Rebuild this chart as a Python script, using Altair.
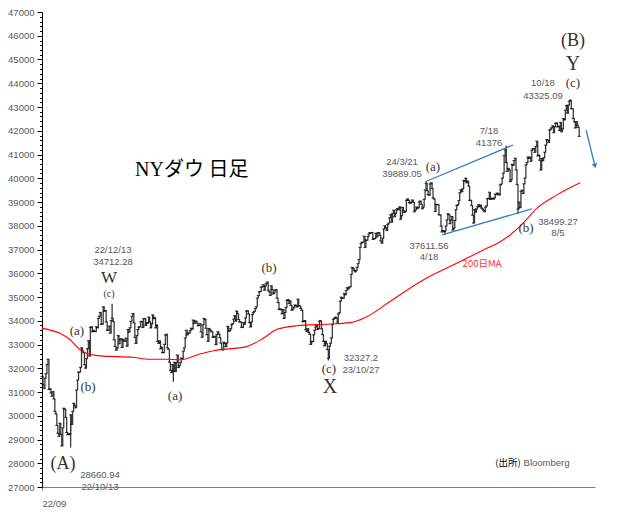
import altair as alt
import pandas as pd

# ---------------- daily closes (NY Dow), 2022/09/01 .. 2024/10/31 ----------------
c2022_09 = [31656, 31318, 31145, 31581, 31774, 32151, 32381, 31104, 31135, 30961, 30822,
            31019, 30706, 30184, 30076, 29590, 29260, 29135, 29684, 29225, 28726]
c2022_10 = [29490, 30316, 30274, 29927, 29297, 29203, 29239, 29211, 30039, 29635, 30186,
            30524, 30424, 30334, 31083, 31500, 31837, 31840, 32034, 32861, 32733]
c2022_11 = [32653, 32148, 32001, 32403, 32827, 33161, 32514, 33716, 33748, 33537, 33593,
            33554, 33547, 33746, 33700, 34098, 34195, 34347, 33850, 33853, 34590]
c2022_12 = [34395, 34430, 33947, 33597, 33598, 33781, 33476, 34005, 34108, 33966, 33203,
            32920, 32757, 32850, 33377, 33027, 33204, 33241, 32876, 33221, 33147]
c2023_01 = [33136, 33270, 32930, 33631, 33518, 33704, 33973, 34190, 34303, 33910, 33297,
            33045, 33375, 33630, 33734, 33744, 33949, 33978, 33717, 34086]
c2023_02 = [34093, 33804, 33926, 33891, 34156, 33949, 33699, 33869, 34246, 34089, 34128,
            33697, 33827, 33130, 33045, 33154, 32817, 32889, 32657]
c2023_03 = [32662, 33004, 33391, 33432, 32856, 32798, 32255, 31910, 31820, 32155, 31875,
            32247, 31862, 32245, 32561, 32031, 32106, 32238, 32433, 32395, 32718, 32860, 33274]
c2023_04 = [33601, 33403, 33483, 33486, 33587, 33685, 33647, 34030, 33887, 33988, 33977,
            33897, 33787, 33809, 33876, 33531, 33302, 33827, 34098]
c2023_05 = [34052, 33684, 33414, 33128, 33675, 33619, 33562, 33531, 33309, 33301, 33349,
            32993, 33421, 33536, 33427, 33287, 33056, 32800, 32765, 33093, 33043, 32908]
c2023_06 = [33061, 33763, 33563, 33573, 33665, 33833, 33877, 34066, 34212, 33979, 34408,
            34299, 34054, 33952, 33946, 33727, 33714, 33927, 33853, 34123, 34408]
c2023_07 = [34418, 34288, 33923, 33735, 33944, 34262, 34347, 34395, 34509, 34586, 34952,
            35061, 35225, 35228, 35411, 35438, 35520, 35282, 35459, 35560]
c2023_08 = [35631, 35283, 35216, 35066, 35474, 35315, 35124, 35176, 35281, 35308, 34946,
            34766, 34475, 34501, 34464, 34289, 34473, 34099, 34346, 34560, 34853, 34891, 34722]
c2023_09 = [34838, 34642, 34443, 34501, 34577, 34663, 34646, 34576, 34907, 34618, 34624,
            34518, 34441, 33964, 33963, 34007, 33619, 33551, 33667, 33507]
c2023_10 = [33433, 33002, 33129, 33120, 33408, 33605, 33740, 33805, 33631, 33670, 33985,
            33998, 33665, 33415, 33127, 32937, 33141, 33036, 32785, 32418, 32929, 33053]
c2023_11 = [33275, 33839, 34061, 34096, 34153, 34112, 33892, 34283, 34337, 34828, 34992,
            34946, 34947, 35151, 35089, 35273, 35390, 35334, 35416, 35430, 35951]
c2023_12 = [36246, 36204, 36125, 36055, 36117, 36248, 36405, 36578, 37090, 37248, 37306,
            37307, 37558, 37083, 37405, 37386, 37545, 37657, 37711, 37690]
c2024_01 = [37715, 37431, 37440, 37466, 37683, 37525, 37696, 37711, 37593, 37361, 37267,
            37469, 37864, 38002, 37906, 37806, 38050, 38109, 38333, 38467, 38150]
c2024_02 = [38520, 38654, 38380, 38521, 38677, 38726, 38671, 38797, 38273, 38424, 38773,
            38628, 38564, 38612, 39069, 39131, 39069, 38972, 38949, 38996]
c2024_03 = [39087, 38990, 38585, 38661, 38791, 38723, 38770, 39005, 39043, 38906, 38715,
            38790, 39111, 39512, 39781, 39476, 39313, 39282, 39760, 39807]
c2024_04 = [39567, 39170, 39127, 38597, 38904, 38892, 38884, 38462, 38459, 37983, 37735,
            37799, 37753, 37775, 37986, 38240, 38504, 38461, 38086, 38240, 38386, 37816]
c2024_05 = [37903, 38226, 38676, 38852, 38884, 39056, 39388, 39513, 39432, 39558, 39908,
            39869, 40004, 39807, 39873, 39671, 39065, 39070, 38853, 38442, 38112, 38686]
c2024_06 = [38571, 38711, 38807, 38886, 38799, 38868, 38747, 38712, 38647, 38589, 38778,
            38834, 39134, 39150, 39411, 39112, 39127, 39164, 39119]
c2024_07 = [39170, 39331, 39308, 39375, 39344, 39291, 39721, 39753, 40001, 40212, 40954,
            41198, 40665, 40288, 40415, 40358, 39854, 39935, 40589, 40540, 40743, 40843]
c2024_08 = [40347, 39737, 38703, 38998, 38763, 39446, 39498, 39357, 39766, 40009, 40563,
            40660, 40896, 40834, 40890, 40713, 41175, 41240, 41250, 41091, 41335, 41563]
c2024_09 = [40937, 40975, 40756, 40345, 40830, 40737, 40861, 41097, 41394, 41622, 41606,
            41504, 42025, 42063, 42125, 42208, 41915, 42175, 42313, 42330]
c2024_10 = [42156, 42197, 42012, 42353, 41954, 42080, 42512, 42454, 42864, 43065, 42740,
            43077, 43239, 43276, 42931, 42925, 42514, 42374, 42114, 42387, 42233, 42142, 41763]

months = [c2022_09, c2022_10, c2022_11, c2022_12, c2023_01, c2023_02, c2023_03, c2023_04,
          c2023_05, c2023_06, c2023_07, c2023_08, c2023_09, c2023_10, c2023_11, c2023_12,
          c2024_01, c2024_02, c2024_03, c2024_04, c2024_05, c2024_06, c2024_07, c2024_08,
          c2024_09, c2024_10]
closes = [v for m in months for v in m]

# intraday extremes (trading-day index, price)
ext_i = [29, 71, 133, 290, 389, 408, 470, 482, 535]
ext_v = [28660.94, 34712.28, 31430, 32327.2, 39889.05, 37611.56, 41376, 38499.27, 43325.09]

# 200-day moving average (trading-day index, value)
ma_i = [0, 18, 28, 38, 45, 59, 92, 109, 126, 140, 160, 174, 207, 224, 238, 258, 292, 312,
        329, 352, 386, 420, 447, 464, 474, 487, 501, 521, 545]
ma_v = [33690, 33470, 33220, 32800, 32630, 32520, 32460, 32380, 32380, 32360, 32600, 32740,
        32910, 33260, 33640, 33790, 33860, 33920, 34170, 34800, 35720, 36420, 36980, 37330,
        37610, 38100, 38730, 39290, 39810]

# blue trend lines and arrow
tl_i1 = [390, 405]
tl_v1 = [39885, 37611]
tl_i2 = [477, 496]
tl_v2 = [41400, 38706]
arr_i1, arr_v1, arr_i2, arr_v2 = [551], [42030], [560], [40516]

# annotation texts
num_t = ["28660.94", "22/10/13", "22/12/13", "34712.28", "32327.2", "23/10/27", "24/3/21",
         "39889.05", "7/18", "41376", "37611.56", "4/18", "38499.27", "8/5", "10/18", "43325.09"]
num_i = [58.7, 58.7, 71.9, 71.9, 323, 323, 364.6, 364.6, 452.7, 452.7, 391.9, 391.9,
         522.5, 522.5, 507.3, 507.3]
num_v = [27517, 27011, 36979, 36474, 32432, 31926, 40684, 40179, 41989, 41484, 37147,
         36684, 38158, 37695, 44011, 43463]

wave_t = ["(A)", "W", "(c)", "X", "(B)", "Y", "(a)", "(b)", "(a)", "(b)", "(c)", "(a)",
          "(b)", "(c)"]
wave_i = [21.3, 67.8, 67.8, 291.6, 537.7, 537.7, 35.4, 46.6, 134.7, 229.9, 290.6, 395.9,
          490.1, 537.7]
wave_v = [27950, 35780, 35130, 31211, 45800, 44790, 33568, 31211, 30832, 36221, 31968,
          40474, 37905, 43990]
wave_s = [18, 17, 10, 20, 18, 20, 13, 13, 13, 13, 13, 13, 13, 13]

title_a, title_b = "NY", "ダウ 日足"
title_i, title_v = 123.5, 40347
ma_label, ma_label_i, ma_label_v = "200日MA", 445.6, 36389
src1, src1_i = "(出所)", 471.9
src2, src2_i = "Bloomberg", 510.9
src_v = 28011

# ---------------- chart ----------------
xs = alt.Scale(domain=[0, 560], nice=False, zero=False)
ys = alt.Scale(domain=[27000, 47000], nice=False, zero=False)
x_axis = alt.Axis(values=[0], labelExpr="'22/09'", tickSize=3, grid=False, title=None,
                  domainColor="#7f7f7f", tickColor="#7f7f7f", labelColor="#595959",
                  labelFont="Liberation Sans", labelFontSize=9.5, labelPadding=8)
y_axis = alt.Axis(values=list(range(27000, 47001, 200)),
                  labelExpr="datum.value % 1000 === 0 ? datum.value : ''",
                  labelOverlap=False, grid=False, title=None,
                  tickSize={"condition": {"test": "datum.value % 1000 === 0", "value": 5},
                            "value": 2.5},
                  domainColor="black", tickColor="black", labelColor="#595959",
                  labelFont="Liberation Sans", labelFontSize=9.5, labelPadding=3)


def X(f):
    return alt.X(f, type="quantitative", scale=xs, axis=x_axis)


def Y(f):
    return alt.Y(f, type="quantitative", scale=ys, axis=y_axis)


def label_chart(i, v, t, **kw):
    return alt.Chart(pd.DataFrame({"i": [i], "v": [v], "t": [t]})).mark_text(
        baseline="middle", **kw).encode(x=X("i"), y=Y("v"), text="t:N")


bars = pd.DataFrame({"i": list(range(len(closes))), "v": closes})

rules = alt.Chart(bars).transform_window(
    prev="lag(v)", sort=[alt.SortField("i")]
).mark_rule(color="#3a3a3a", strokeWidth=1.3).encode(
    x=X("i"), y=Y("prev"), y2="v")

ticks = alt.Chart(bars).mark_tick(orient="horizontal", size=3, thickness=1.2,
                                  color="black").encode(x=X("i"), y=Y("v"))

ext = pd.DataFrame({"i": ext_i, "v": ext_v, "c": [closes[k] for k in ext_i]})
ext_rules = alt.Chart(ext).mark_rule(color="#3a3a3a", strokeWidth=1.3).encode(
    x=X("i"), y=Y("v"), y2="c")

ma = pd.DataFrame({"i": ma_i, "v": ma_v})
ma_line = alt.Chart(ma).mark_line(color="#ff0000", strokeWidth=1.1,
                                  interpolate="monotone").encode(x=X("i"), y=Y("v"))

tl = pd.DataFrame({"i": tl_i1 + arr_i1, "v": tl_v1 + arr_v1,
                   "i2": tl_i2 + arr_i2, "v2": tl_v2 + arr_v2})
tl_rules = alt.Chart(tl).mark_rule(color="#2f80c8", strokeWidth=1.3).encode(
    x=X("i"), y=Y("v"), x2="i2", y2="v2")

arrow = alt.Chart(pd.DataFrame({"i": arr_i2, "v": arr_v2})).mark_point(
    shape="triangle-down", filled=True, size=30, angle=346, color="#2f80c8", opacity=1
).encode(x=X("i"), y=Y("v"))

nums = alt.Chart(pd.DataFrame({"i": num_i, "v": num_v, "t": num_t})).mark_text(
    font="Liberation Sans", fontSize=9.5, color="#595959", align="center", baseline="middle"
).encode(x=X("i"), y=Y("v"), text="t:N")

waves = alt.Chart(pd.DataFrame({"i": wave_i, "v": wave_v, "t": wave_t, "s": wave_s})).mark_text(
    font="Liberation Serif", color="#333333", align="center", baseline="middle"
).encode(x=X("i"), y=Y("v"), text="t:N", size=alt.Size("s:Q", scale=None, legend=None))

title1 = label_chart(title_i, title_v, title_a, font="Liberation Serif", fontSize=20,
                     color="black", align="right")
title2 = label_chart(title_i, title_v, title_b, font="Noto Sans CJK JP", fontSize=20,
                     color="black", align="left")
ma_txt = label_chart(ma_label_i, ma_label_v, ma_label, font="Noto Sans CJK JP",
                     fontSize=9.5, color="#ff3030", align="center")
src_a = label_chart(src1_i, src_v, src1, font="Noto Sans CJK JP", fontSize=9.5,
                    color="black", align="center")
src_b = label_chart(src2_i, src_v, src2, font="Liberation Sans", fontSize=9.5,
                    color="#595959", align="center")

chart = alt.layer(
    rules, ext_rules, ticks, ma_line, tl_rules, arrow, nums, waves,
    title1, title2, ma_txt, src_a, src_b
).properties(
    width=553, height=475,
    autosize=alt.AutoSizeParams(type="none"),
    padding={"left": 34, "top": 4, "right": 15, "bottom": 20},
).configure_view(stroke=None)

chart.save("out.html", embed_options={"renderer": "svg", "actions": False})
